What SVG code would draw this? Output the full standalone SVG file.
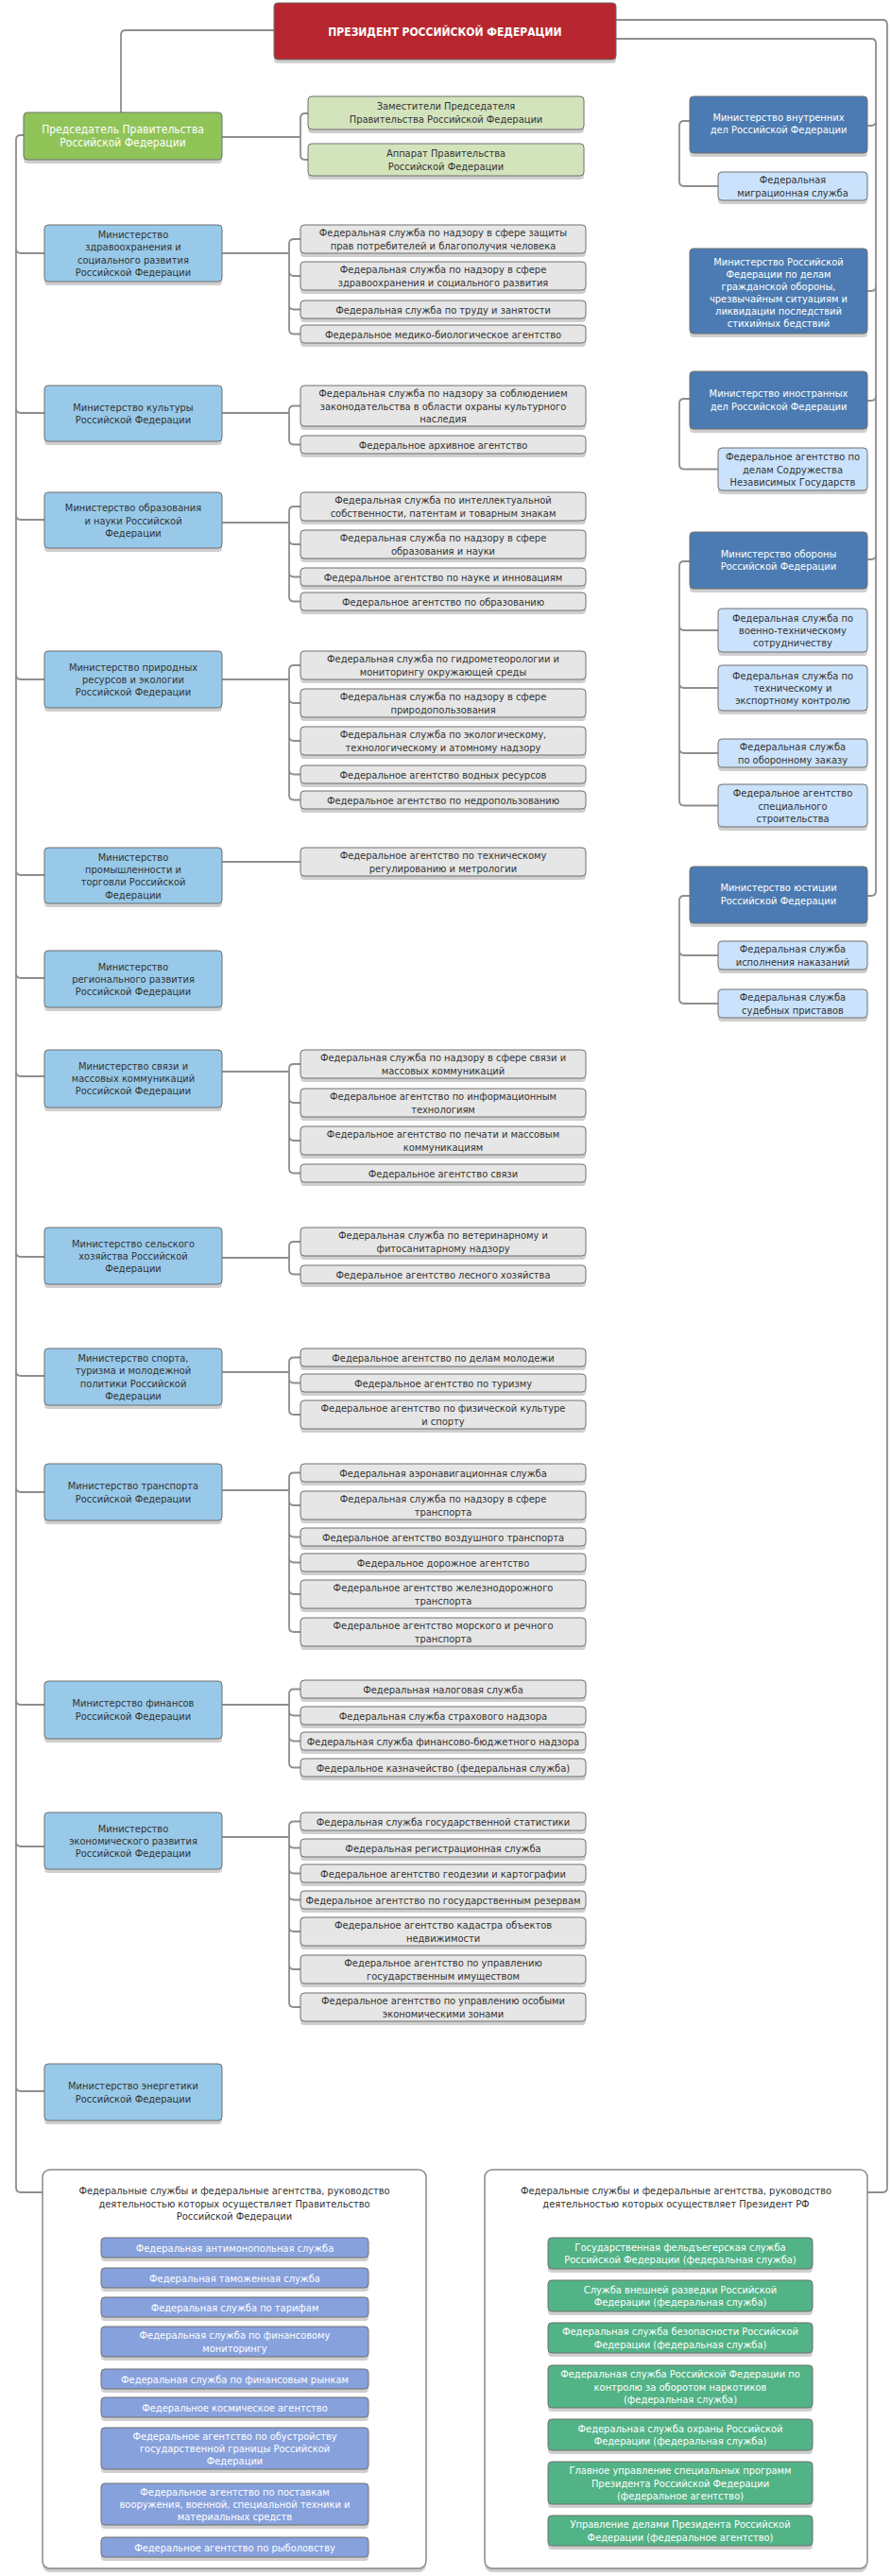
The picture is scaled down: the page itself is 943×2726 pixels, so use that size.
<svg xmlns="http://www.w3.org/2000/svg" width="943" height="2726" viewBox="0 0 943 2726">
<style>
.c{fill:none;stroke:#8e8e8e;stroke-width:1.8}
.sh{fill:#cfcfcf}
.b{stroke:#6f6f6f;stroke-width:1}
.pr{fill:#b8272f}.ch{fill:#90c459}.lg{fill:#d3e4bd}.mn{fill:#98c9e9}.gr{fill:#e6e6e6}
.pw{fill:#4b7bb2}.ps{fill:#cae2fb}.pu{fill:#87a1dd}.gn{fill:#52b386}.pn{fill:#fff;stroke:#888;stroke-width:1.5}
text{font-family:"DejaVu Sans Condensed","DejaVu Sans",sans-serif;font-size:11px;text-anchor:middle;fill:#333}
.w{fill:#fff}
.big{font-size:12px}
</style>
<rect width="943" height="2726" fill="#fff"/>
<g id="connectors">
<path class="c" d="M290,32 H133 Q128,32 128,37 V119"/>
<path class="c" d="M652,21 H934 Q939,21 939,26 V2315 Q939,2320 934,2320 H918"/>
<path class="c" d="M652,41 H922 Q927,41 927,46 V943 Q927,948 922,948 H918"/>
<path class="c" d="M927,128 Q927,133 922,133 H918 M927,303 Q927,308 922,308 H918 M927,419 Q927,424 922,424 H918 M927,587 Q927,592 922,592 H918"/>
<path class="c" d="M235,145 H318 M326,120 H323 Q318,120 318,125 V164 Q318,169 323,169 H326"/>
<path class="c" d="M25,143 H22 Q17,143 17,148 V2315 Q17,2320 22,2320 H45"/>
<path class="c" d="M17,263 Q17,268 22,268 H47 M17,432 Q17,437 22,437 H47 M17,545 Q17,550 22,550 H47 M17,714 Q17,719 22,719 H47 M17,921 Q17,926 22,926 H47 M17,1030 Q17,1035 22,1035 H47 M17,1134 Q17,1139 22,1139 H47 M17,1325 Q17,1330 22,1330 H47 M17,1451 Q17,1456 22,1456 H47 M17,1574 Q17,1579 22,1579 H47 M17,1799 Q17,1804 22,1804 H47 M17,1949 Q17,1954 22,1954 H47 M17,2208 Q17,2213 22,2213 H47"/>
<!-- ministry to subs -->
<path class="c" d="M235,268 H306 M318,253 H311 Q306,253 306,258 V348.5 Q306,353.5 311,353.5 H318 M306,287 Q306,292 311,292 H318 M306,322.5 Q306,327.5 311,327.5 H318"/>
<path class="c" d="M235,437 H306 M318,429.5 H311 Q306,429.5 306,434.5 V465.5 Q306,470.5 311,470.5 H318"/>
<path class="c" d="M235,553 H306 M318,536 H311 Q306,536 306,541 V631.5 Q306,636.5 311,636.5 H318 M306,571 Q306,576 311,576 H318 M306,605.5 Q306,610.5 311,610.5 H318"/>
<path class="c" d="M235,719 H306 M318,704 H311 Q306,704 306,709 V841.5 Q306,846.5 311,846.5 H318 M306,739 Q306,744 311,744 H318 M306,779 Q306,784 311,784 H318 M306,814.5 Q306,819.5 311,819.5 H318"/>
<path class="c" d="M235,912 H318"/>
<path class="c" d="M235,1134 H306 M318,1126 H311 Q306,1126 306,1131 V1236.5 Q306,1241.5 311,1241.5 H318 M306,1162 Q306,1167 311,1167 H318 M306,1202 Q306,1207 311,1207 H318"/>
<path class="c" d="M235,1331 H306 M318,1314 H311 Q306,1314 306,1319 V1343.5 Q306,1348.5 311,1348.5 H318"/>
<path class="c" d="M235,1452 H306 M318,1436.5 H311 Q306,1436.5 306,1441.5 V1492 Q306,1497 311,1497 H318 M306,1458.5 Q306,1463.5 311,1463.5 H318"/>
<path class="c" d="M235,1577 H306 M318,1558.5 H311 Q306,1558.5 306,1563.5 V1722 Q306,1727 311,1727 H318 M306,1588 Q306,1593 311,1593 H318 M306,1621.5 Q306,1626.5 311,1626.5 H318 M306,1648.5 Q306,1653.5 311,1653.5 H318 M306,1682 Q306,1687 311,1687 H318"/>
<path class="c" d="M235,1804 H306 M318,1787.5 H311 Q306,1787.5 306,1792.5 V1865.5 Q306,1870.5 311,1870.5 H318 M306,1810.5 Q306,1815.5 311,1815.5 H318 M306,1837.5 Q306,1842.5 311,1842.5 H318"/>
<path class="c" d="M235,1944 H306 M318,1927.5 H311 Q306,1927.5 306,1932.5 V2119 Q306,2124 311,2124 H318 M306,1950.5 Q306,1955.5 311,1955.5 H318 M306,1977.5 Q306,1982.5 311,1982.5 H318 M306,2005.5 Q306,2010.5 311,2010.5 H318 M306,2039 Q306,2044 311,2044 H318 M306,2079 Q306,2084 311,2084 H318"/>
<!-- power brackets -->
<path class="c" d="M730,128 H724 Q719,128 719,133 V192 Q719,197 724,197 H760"/>
<path class="c" d="M730,422 H724 Q719,422 719,427 V491.5 Q719,496.5 724,496.5 H760"/>
<path class="c" d="M730,594 H724 Q719,594 719,599 V847.5 Q719,852.5 724,852.5 H760 M719,662 Q719,667 724,667 H760 M719,723 Q719,728 724,728 H760 M719,792 Q719,797 724,797 H760"/>
<path class="c" d="M730,948 H724 Q719,948 719,953 V1057 Q719,1062 724,1062 H760 M719,1006 Q719,1011 724,1011 H760"/>
</g>

<g id="president"><rect class="sh" x="290" y="7" width="362" height="60" rx="4"/><rect class="b pr" x="290" y="3" width="362" height="60" rx="4"/><text class="w" style="font-weight:bold;font-size:12px" x="471" y="37.5">ПРЕЗИДЕНТ РОССИЙСКОЙ ФЕДЕРАЦИИ</text></g>

<g id="chairman"><rect class="sh" x="25" y="123" width="210" height="50" rx="4"/><rect class="b ch" x="25" y="119" width="210" height="50" rx="4"/><text class="w big"><tspan x="130" y="141">Председатель Правительства</tspan><tspan x="130" y="155">Российской Федерации</tspan></text></g>
<g id="deputies"><rect class="sh" x="326" y="106" width="292" height="35" rx="4"/><rect class="b lg" x="326" y="102" width="292" height="35" rx="4"/><text><tspan x="472" y="115.5">Заместители Председателя</tspan><tspan x="472" y="129.5">Правительства Российской Федерации</tspan></text></g>
<g id="apparatus"><rect class="sh" x="326" y="156" width="292" height="34" rx="4"/><rect class="b lg" x="326" y="152" width="292" height="34" rx="4"/><text><tspan x="472" y="166">Аппарат Правительства</tspan><tspan x="472" y="180">Российской Федерации</tspan></text></g>

<!-- Left ministries -->
<g id="m-health"><rect class="sh" x="47" y="242" width="188" height="60" rx="4"/><rect class="b mn" x="47" y="238" width="188" height="60" rx="4"/><text><tspan x="141" y="252">Министерство</tspan><tspan x="141" y="265.4">здравоохранения и</tspan><tspan x="141" y="278.7">социального развития</tspan><tspan x="141" y="292">Российской Федерации</tspan></text></g>
<g id="m-culture"><rect class="sh" x="47" y="412" width="188" height="59" rx="4"/><rect class="b mn" x="47" y="408" width="188" height="59" rx="4"/><text><tspan x="141" y="434.9">Министерство культуры</tspan><tspan x="141" y="448.2">Российской Федерации</tspan></text></g>
<g id="m-edu"><rect class="sh" x="47" y="525" width="188" height="59" rx="4"/><rect class="b mn" x="47" y="521" width="188" height="59" rx="4"/><text><tspan x="141" y="541.2">Министерство образования</tspan><tspan x="141" y="554.5">и науки Российской</tspan><tspan x="141" y="567.8">Федерации</tspan></text></g>
<g id="m-nature"><rect class="sh" x="47" y="693" width="188" height="60" rx="4"/><rect class="b mn" x="47" y="689" width="188" height="60" rx="4"/><text><tspan x="141" y="709.7">Министерство природных</tspan><tspan x="141" y="723">ресурсов и экологии</tspan><tspan x="141" y="736.3">Российской Федерации</tspan></text></g>
<g id="m-industry"><rect class="sh" x="47" y="901" width="188" height="59" rx="4"/><rect class="b mn" x="47" y="897" width="188" height="59" rx="4"/><text><tspan x="141" y="910.5">Министерство</tspan><tspan x="141" y="923.9">промышленности и</tspan><tspan x="141" y="937.2">торговли Российской</tspan><tspan x="141" y="950.5">Федерации</tspan></text></g>
<g id="m-region"><rect class="sh" x="47" y="1010" width="188" height="60" rx="4"/><rect class="b mn" x="47" y="1006" width="188" height="60" rx="4"/><text><tspan x="141" y="1026.7">Министерство</tspan><tspan x="141" y="1040">регионального развития</tspan><tspan x="141" y="1053.3">Российской Федерации</tspan></text></g>
<g id="m-comm"><rect class="sh" x="47" y="1115" width="188" height="61" rx="4"/><rect class="b mn" x="47" y="1111" width="188" height="61" rx="4"/><text><tspan x="141" y="1131.7">Министерство связи и</tspan><tspan x="141" y="1145">массовых коммуникаций</tspan><tspan x="141" y="1158.3">Российской Федерации</tspan></text></g>
<g id="m-agri"><rect class="sh" x="47" y="1303" width="188" height="60" rx="4"/><rect class="b mn" x="47" y="1299" width="188" height="60" rx="4"/><text><tspan x="141" y="1319.7">Министерство сельского</tspan><tspan x="141" y="1333">хозяйства Российской</tspan><tspan x="141" y="1346.3">Федерации</tspan></text></g>
<g id="m-sport"><rect class="sh" x="47" y="1431" width="188" height="60" rx="4"/><rect class="b mn" x="47" y="1427" width="188" height="60" rx="4"/><text><tspan x="141" y="1441">Министерство спорта,</tspan><tspan x="141" y="1454.4">туризма и молодежной</tspan><tspan x="141" y="1467.7">политики Российской</tspan><tspan x="141" y="1481">Федерации</tspan></text></g>
<g id="m-transport"><rect class="sh" x="47" y="1553" width="188" height="60" rx="4"/><rect class="b mn" x="47" y="1549" width="188" height="60" rx="4"/><text><tspan x="141" y="1576.4">Министерство транспорта</tspan><tspan x="141" y="1589.7">Российской Федерации</tspan></text></g>
<g id="m-finance"><rect class="sh" x="47" y="1783" width="188" height="61" rx="4"/><rect class="b mn" x="47" y="1779" width="188" height="61" rx="4"/><text><tspan x="141" y="1806.4">Министерство финансов</tspan><tspan x="141" y="1819.7">Российской Федерации</tspan></text></g>
<g id="m-econ"><rect class="sh" x="47" y="1922" width="188" height="60" rx="4"/><rect class="b mn" x="47" y="1918" width="188" height="60" rx="4"/><text><tspan x="141" y="1938.7">Министерство</tspan><tspan x="141" y="1952">экономического развития</tspan><tspan x="141" y="1965.3">Российской Федерации</tspan></text></g>
<g id="m-energy"><rect class="sh" x="47" y="2188" width="188" height="60" rx="4"/><rect class="b mn" x="47" y="2184" width="188" height="60" rx="4"/><text><tspan x="141" y="2211.4">Министерство энергетики</tspan><tspan x="141" y="2224.7">Российской Федерации</tspan></text></g>

<!-- Gray subordinate services -->
<g id="s-health-1"><rect class="sh" x="318" y="242" width="302" height="30" rx="4"/><rect class="b gr" x="318" y="238" width="302" height="30" rx="4"/><text><tspan x="469" y="250.4">Федеральная служба по надзору в сфере защиты</tspan><tspan x="469" y="263.7">прав потребителей и благополучия человека</tspan></text></g>
<g id="s-health-2"><rect class="sh" x="318" y="281" width="302" height="30" rx="4"/><rect class="b gr" x="318" y="277" width="302" height="30" rx="4"/><text><tspan x="469" y="289.4">Федеральная служба по надзору в сфере</tspan><tspan x="469" y="302.7">здравоохранения и социального развития</tspan></text></g>
<g id="s-health-3"><rect class="sh" x="318" y="322" width="302" height="19" rx="4"/><rect class="b gr" x="318" y="318" width="302" height="19" rx="4"/><text x="469" y="331.5">Федеральная служба по труду и занятости</text></g>
<g id="s-health-4"><rect class="sh" x="318" y="348" width="302" height="19" rx="4"/><rect class="b gr" x="318" y="344" width="302" height="19" rx="4"/><text x="469" y="357.5">Федеральное медико-биологическое агентство</text></g>

<g id="s-culture-1"><rect class="sh" x="318" y="412" width="302" height="43" rx="4"/><rect class="b gr" x="318" y="408" width="302" height="43" rx="4"/><text><tspan x="469" y="420.2">Федеральная служба по надзору за соблюдением</tspan><tspan x="469" y="433.5">законодательства в области охраны культурного</tspan><tspan x="469" y="446.8">наследия</tspan></text></g>
<g id="s-culture-2"><rect class="sh" x="318" y="465" width="302" height="19" rx="4"/><rect class="b gr" x="318" y="461" width="302" height="19" rx="4"/><text x="469" y="474.5">Федеральное архивное агентство</text></g>

<g id="s-edu-1"><rect class="sh" x="318" y="525" width="302" height="30" rx="4"/><rect class="b gr" x="318" y="521" width="302" height="30" rx="4"/><text><tspan x="469" y="533.4">Федеральная служба по интеллектуальной</tspan><tspan x="469" y="546.7">собственности, патентам и товарным знакам</tspan></text></g>
<g id="s-edu-2"><rect class="sh" x="318" y="565" width="302" height="30" rx="4"/><rect class="b gr" x="318" y="561" width="302" height="30" rx="4"/><text><tspan x="469" y="573.4">Федеральная служба по надзору в сфере</tspan><tspan x="469" y="586.7">образования и науки</tspan></text></g>
<g id="s-edu-3"><rect class="sh" x="318" y="605" width="302" height="19" rx="4"/><rect class="b gr" x="318" y="601" width="302" height="19" rx="4"/><text x="469" y="614.5">Федеральное агентство по науке и инновациям</text></g>
<g id="s-edu-4"><rect class="sh" x="318" y="631" width="302" height="19" rx="4"/><rect class="b gr" x="318" y="627" width="302" height="19" rx="4"/><text x="469" y="640.5">Федеральное агентство по образованию</text></g>

<g id="s-nature-1"><rect class="sh" x="318" y="693" width="302" height="30" rx="4"/><rect class="b gr" x="318" y="689" width="302" height="30" rx="4"/><text><tspan x="469" y="701.4">Федеральная служба по гидрометеорологии и</tspan><tspan x="469" y="714.7">мониторингу окружающей среды</tspan></text></g>
<g id="s-nature-2"><rect class="sh" x="318" y="733" width="302" height="30" rx="4"/><rect class="b gr" x="318" y="729" width="302" height="30" rx="4"/><text><tspan x="469" y="741.4">Федеральная служба по надзору в сфере</tspan><tspan x="469" y="754.7">природопользования</tspan></text></g>
<g id="s-nature-3"><rect class="sh" x="318" y="773" width="302" height="30" rx="4"/><rect class="b gr" x="318" y="769" width="302" height="30" rx="4"/><text><tspan x="469" y="781.4">Федеральная служба по экологическому,</tspan><tspan x="469" y="794.7">технологическому и атомному надзору</tspan></text></g>
<g id="s-nature-4"><rect class="sh" x="318" y="814" width="302" height="19" rx="4"/><rect class="b gr" x="318" y="810" width="302" height="19" rx="4"/><text x="469" y="823.5">Федеральное агентство водных ресурсов</text></g>
<g id="s-nature-5"><rect class="sh" x="318" y="841" width="302" height="19" rx="4"/><rect class="b gr" x="318" y="837" width="302" height="19" rx="4"/><text x="469" y="850.5">Федеральное агентство по недропользованию</text></g>

<g id="s-industry-1"><rect class="sh" x="318" y="901" width="302" height="30" rx="4"/><rect class="b gr" x="318" y="897" width="302" height="30" rx="4"/><text><tspan x="469" y="909.4">Федеральное агентство по техническому</tspan><tspan x="469" y="922.7">регулированию и метрологии</tspan></text></g>

<g id="s-comm-1"><rect class="sh" x="318" y="1115" width="302" height="30" rx="4"/><rect class="b gr" x="318" y="1111" width="302" height="30" rx="4"/><text><tspan x="469" y="1123.4">Федеральная служба по надзору в сфере связи и</tspan><tspan x="469" y="1136.7">массовых коммуникаций</tspan></text></g>
<g id="s-comm-2"><rect class="sh" x="318" y="1156" width="302" height="30" rx="4"/><rect class="b gr" x="318" y="1152" width="302" height="30" rx="4"/><text><tspan x="469" y="1164.4">Федеральное агентство по информационным</tspan><tspan x="469" y="1177.7">технологиям</tspan></text></g>
<g id="s-comm-3"><rect class="sh" x="318" y="1196" width="302" height="30" rx="4"/><rect class="b gr" x="318" y="1192" width="302" height="30" rx="4"/><text><tspan x="469" y="1204.4">Федеральное агентство по печати и массовым</tspan><tspan x="469" y="1217.7">коммуникациям</tspan></text></g>
<g id="s-comm-4"><rect class="sh" x="318" y="1236" width="302" height="19" rx="4"/><rect class="b gr" x="318" y="1232" width="302" height="19" rx="4"/><text x="469" y="1245.5">Федеральное агентство связи</text></g>

<g id="s-agri-1"><rect class="sh" x="318" y="1303" width="302" height="30" rx="4"/><rect class="b gr" x="318" y="1299" width="302" height="30" rx="4"/><text><tspan x="469" y="1311.4">Федеральная служба по ветеринарному и</tspan><tspan x="469" y="1324.7">фитосанитарному надзору</tspan></text></g>
<g id="s-agri-2"><rect class="sh" x="318" y="1343" width="302" height="19" rx="4"/><rect class="b gr" x="318" y="1339" width="302" height="19" rx="4"/><text x="469" y="1352.5">Федеральное агентство лесного хозяйства</text></g>

<g id="s-sport-1"><rect class="sh" x="318" y="1431" width="302" height="19" rx="4"/><rect class="b gr" x="318" y="1427" width="302" height="19" rx="4"/><text x="469" y="1440.5">Федеральное агентство по делам молодежи</text></g>
<g id="s-sport-2"><rect class="sh" x="318" y="1458" width="302" height="19" rx="4"/><rect class="b gr" x="318" y="1454" width="302" height="19" rx="4"/><text x="469" y="1467.5">Федеральное агентство по туризму</text></g>
<g id="s-sport-3"><rect class="sh" x="318" y="1486" width="302" height="30" rx="4"/><rect class="b gr" x="318" y="1482" width="302" height="30" rx="4"/><text><tspan x="469" y="1494.4">Федеральное агентство по физической культуре</tspan><tspan x="469" y="1507.7">и спорту</tspan></text></g>

<g id="s-trans-1"><rect class="sh" x="318" y="1553" width="302" height="19" rx="4"/><rect class="b gr" x="318" y="1549" width="302" height="19" rx="4"/><text x="469" y="1562.5">Федеральная аэронавигационная служба</text></g>
<g id="s-trans-2"><rect class="sh" x="318" y="1582" width="302" height="30" rx="4"/><rect class="b gr" x="318" y="1578" width="302" height="30" rx="4"/><text><tspan x="469" y="1590.4">Федеральная служба по надзору в сфере</tspan><tspan x="469" y="1603.7">транспорта</tspan></text></g>
<g id="s-trans-3"><rect class="sh" x="318" y="1621" width="302" height="19" rx="4"/><rect class="b gr" x="318" y="1617" width="302" height="19" rx="4"/><text x="469" y="1630.5">Федеральное агентство воздушного транспорта</text></g>
<g id="s-trans-4"><rect class="sh" x="318" y="1648" width="302" height="19" rx="4"/><rect class="b gr" x="318" y="1644" width="302" height="19" rx="4"/><text x="469" y="1657.5">Федеральное дорожное агентство</text></g>
<g id="s-trans-5"><rect class="sh" x="318" y="1676" width="302" height="30" rx="4"/><rect class="b gr" x="318" y="1672" width="302" height="30" rx="4"/><text><tspan x="469" y="1684.4">Федеральное агентство железнодорожного</tspan><tspan x="469" y="1697.7">транспорта</tspan></text></g>
<g id="s-trans-6"><rect class="sh" x="318" y="1716" width="302" height="30" rx="4"/><rect class="b gr" x="318" y="1712" width="302" height="30" rx="4"/><text><tspan x="469" y="1724.4">Федеральное агентство морского и речного</tspan><tspan x="469" y="1737.7">транспорта</tspan></text></g>

<g id="s-fin-1"><rect class="sh" x="318" y="1782" width="302" height="19" rx="4"/><rect class="b gr" x="318" y="1778" width="302" height="19" rx="4"/><text x="469" y="1791.5">Федеральная налоговая служба</text></g>
<g id="s-fin-2"><rect class="sh" x="318" y="1810" width="302" height="19" rx="4"/><rect class="b gr" x="318" y="1806" width="302" height="19" rx="4"/><text x="469" y="1819.5">Федеральная служба страхового надзора</text></g>
<g id="s-fin-3"><rect class="sh" x="318" y="1837" width="302" height="19" rx="4"/><rect class="b gr" x="318" y="1833" width="302" height="19" rx="4"/><text x="469" y="1846.5">Федеральная служба финансово-бюджетного надзора</text></g>
<g id="s-fin-4"><rect class="sh" x="318" y="1865" width="302" height="19" rx="4"/><rect class="b gr" x="318" y="1861" width="302" height="19" rx="4"/><text x="469" y="1874.5">Федеральное казначейство (федеральная служба)</text></g>

<g id="s-econ-1"><rect class="sh" x="318" y="1922" width="302" height="19" rx="4"/><rect class="b gr" x="318" y="1918" width="302" height="19" rx="4"/><text x="469" y="1931.5">Федеральная служба государственной статистики</text></g>
<g id="s-econ-2"><rect class="sh" x="318" y="1950" width="302" height="19" rx="4"/><rect class="b gr" x="318" y="1946" width="302" height="19" rx="4"/><text x="469" y="1959.5">Федеральная регистрационная служба</text></g>
<g id="s-econ-3"><rect class="sh" x="318" y="1977" width="302" height="19" rx="4"/><rect class="b gr" x="318" y="1973" width="302" height="19" rx="4"/><text x="469" y="1986.5">Федеральное агентство геодезии и картографии</text></g>
<g id="s-econ-4"><rect class="sh" x="318" y="2005" width="302" height="19" rx="4"/><rect class="b gr" x="318" y="2001" width="302" height="19" rx="4"/><text x="469" y="2014.5">Федеральное агентство по государственным резервам</text></g>
<g id="s-econ-5"><rect class="sh" x="318" y="2033" width="302" height="30" rx="4"/><rect class="b gr" x="318" y="2029" width="302" height="30" rx="4"/><text><tspan x="469" y="2041.4">Федеральное агентство кадастра объектов</tspan><tspan x="469" y="2054.7">недвижимости</tspan></text></g>
<g id="s-econ-6"><rect class="sh" x="318" y="2073" width="302" height="30" rx="4"/><rect class="b gr" x="318" y="2069" width="302" height="30" rx="4"/><text><tspan x="469" y="2081.4">Федеральное агентство по управлению</tspan><tspan x="469" y="2094.7">государственным имуществом</tspan></text></g>
<g id="s-econ-7"><rect class="sh" x="318" y="2113" width="302" height="30" rx="4"/><rect class="b gr" x="318" y="2109" width="302" height="30" rx="4"/><text><tspan x="469" y="2121.4">Федеральное агентство по управлению особыми</tspan><tspan x="469" y="2134.7">экономическими зонами</tspan></text></g>

<!-- Power ministries -->
<g id="p-mvd"><rect class="sh" x="730" y="106" width="188" height="60" rx="4"/><rect class="b pw" x="730" y="102" width="188" height="60" rx="4"/><text class="w"><tspan x="824" y="127.5">Министерство внутренних</tspan><tspan x="824" y="141">дел Российской Федерации</tspan></text></g>
<g id="p-fms"><rect class="sh" x="760" y="186" width="158" height="30" rx="4"/><rect class="b ps" x="760" y="182" width="158" height="30" rx="4"/><text><tspan x="839" y="194.3">Федеральная</tspan><tspan x="839" y="207.6">миграционная служба</tspan></text></g>
<g id="p-mchs"><rect class="sh" x="730" y="267" width="188" height="90" rx="4"/><rect class="b pw" x="730" y="263" width="188" height="90" rx="4"/><text class="w"><tspan x="824" y="281">Министерство Российской</tspan><tspan x="824" y="294">Федерации по делам</tspan><tspan x="824" y="307">гражданской обороны,</tspan><tspan x="824" y="320">чрезвычайным ситуациям и</tspan><tspan x="824" y="333">ликвидации последствий</tspan><tspan x="824" y="346">стихийных бедствий</tspan></text></g>
<g id="p-mid"><rect class="sh" x="730" y="397" width="188" height="61" rx="4"/><rect class="b pw" x="730" y="393" width="188" height="61" rx="4"/><text class="w"><tspan x="824" y="420.4">Министерство иностранных</tspan><tspan x="824" y="433.7">дел Российской Федерации</tspan></text></g>
<g id="p-sng"><rect class="sh" x="760" y="478" width="158" height="45" rx="4"/><rect class="b ps" x="760" y="474" width="158" height="45" rx="4"/><text><tspan x="839" y="487.2">Федеральное агентство по</tspan><tspan x="839" y="500.5">делам Содружества</tspan><tspan x="839" y="513.8">Независимых Государств</tspan></text></g>
<g id="p-mo"><rect class="sh" x="730" y="567" width="188" height="60" rx="4"/><rect class="b pw" x="730" y="563" width="188" height="60" rx="4"/><text class="w"><tspan x="824" y="590">Министерство обороны</tspan><tspan x="824" y="603">Российской Федерации</tspan></text></g>
<g id="p-vts"><rect class="sh" x="760" y="648" width="158" height="46" rx="4"/><rect class="b ps" x="760" y="644" width="158" height="46" rx="4"/><text><tspan x="839" y="657.7">Федеральная служба по</tspan><tspan x="839" y="671">военно-техническому</tspan><tspan x="839" y="684.3">сотрудничеству</tspan></text></g>
<g id="p-fstek"><rect class="sh" x="760" y="708" width="158" height="48" rx="4"/><rect class="b ps" x="760" y="704" width="158" height="48" rx="4"/><text><tspan x="839" y="718.7">Федеральная служба по</tspan><tspan x="839" y="732">техническому и</tspan><tspan x="839" y="745.3">экспортному контролю</tspan></text></g>
<g id="p-fsoz"><rect class="sh" x="760" y="786" width="158" height="30" rx="4"/><rect class="b ps" x="760" y="782" width="158" height="30" rx="4"/><text><tspan x="839" y="794.4">Федеральная служба</tspan><tspan x="839" y="807.7">по оборонному заказу</tspan></text></g>
<g id="p-spec"><rect class="sh" x="760" y="834" width="158" height="45" rx="4"/><rect class="b ps" x="760" y="830" width="158" height="45" rx="4"/><text><tspan x="839" y="843.2">Федеральное агентство</tspan><tspan x="839" y="856.5">специального</tspan><tspan x="839" y="869.8">строительства</tspan></text></g>
<g id="p-mju"><rect class="sh" x="730" y="921" width="188" height="60" rx="4"/><rect class="b pw" x="730" y="917" width="188" height="60" rx="4"/><text class="w"><tspan x="824" y="943">Министерство юстиции</tspan><tspan x="824" y="957">Российской Федерации</tspan></text></g>
<g id="p-fsin"><rect class="sh" x="760" y="1000" width="158" height="30" rx="4"/><rect class="b ps" x="760" y="996" width="158" height="30" rx="4"/><text><tspan x="839" y="1008.4">Федеральная служба</tspan><tspan x="839" y="1021.7">исполнения наказаний</tspan></text></g>
<g id="p-fssp"><rect class="sh" x="760" y="1051" width="158" height="30" rx="4"/><rect class="b ps" x="760" y="1047" width="158" height="30" rx="4"/><text><tspan x="839" y="1059.4">Федеральная служба</tspan><tspan x="839" y="1072.7">судебных приставов</tspan></text></g>

<!-- Bottom panels -->
<g id="gov-panel"><rect class="sh" x="45" y="2300" width="406" height="422" rx="8"/><rect class="pn" x="45" y="2296" width="406" height="422" rx="8"/><text><tspan x="248" y="2322">Федеральные службы и федеральные агентства, руководство</tspan><tspan x="248" y="2336">деятельностью которых осуществляет Правительство</tspan><tspan x="248" y="2349">Российской Федерации</tspan></text></g>
<g id="pres-panel"><rect class="sh" x="513" y="2300" width="405" height="422" rx="8"/><rect class="pn" x="513" y="2296" width="405" height="422" rx="8"/><text><tspan x="715.5" y="2322">Федеральные службы и федеральные агентства, руководство</tspan><tspan x="715.5" y="2336">деятельностью которых осуществляет Президент РФ</tspan></text></g>

<g id="g-1"><rect class="sh" x="107" y="2372" width="283" height="21" rx="4"/><rect class="b pu" x="107" y="2368" width="283" height="21" rx="4"/><text class="w" x="248.5" y="2382.5">Федеральная антимонопольная служба</text></g>
<g id="g-2"><rect class="sh" x="107" y="2404" width="283" height="21" rx="4"/><rect class="b pu" x="107" y="2400" width="283" height="21" rx="4"/><text class="w" x="248.5" y="2414.5">Федеральная таможенная служба</text></g>
<g id="g-3"><rect class="sh" x="107" y="2435" width="283" height="21" rx="4"/><rect class="b pu" x="107" y="2431" width="283" height="21" rx="4"/><text class="w" x="248.5" y="2445.5">Федеральная служба по тарифам</text></g>
<g id="g-4"><rect class="sh" x="107" y="2466" width="283" height="32" rx="4"/><rect class="b pu" x="107" y="2462" width="283" height="32" rx="4"/><text class="w"><tspan x="248.5" y="2475.4">Федеральная служба по финансовому</tspan><tspan x="248.5" y="2488.7">мониторингу</tspan></text></g>
<g id="g-5"><rect class="sh" x="107" y="2511" width="283" height="21" rx="4"/><rect class="b pu" x="107" y="2507" width="283" height="21" rx="4"/><text class="w" x="248.5" y="2521.5">Федеральная служба по финансовым рынкам</text></g>
<g id="g-6"><rect class="sh" x="107" y="2541" width="283" height="21" rx="4"/><rect class="b pu" x="107" y="2537" width="283" height="21" rx="4"/><text class="w" x="248.5" y="2551.5">Федеральное космическое агентство</text></g>
<g id="g-7"><rect class="sh" x="107" y="2573" width="283" height="44" rx="4"/><rect class="b pu" x="107" y="2569" width="283" height="44" rx="4"/><text class="w"><tspan x="248.5" y="2581.7">Федеральное агентство по обустройству</tspan><tspan x="248.5" y="2595">государственной границы Российской</tspan><tspan x="248.5" y="2608.3">Федерации</tspan></text></g>
<g id="g-8"><rect class="sh" x="107" y="2632" width="283" height="44" rx="4"/><rect class="b pu" x="107" y="2628" width="283" height="44" rx="4"/><text class="w"><tspan x="248.5" y="2640.7">Федеральное агентство по поставкам</tspan><tspan x="248.5" y="2654">вооружения, военной, специальной техники и</tspan><tspan x="248.5" y="2667.3">материальных средств</tspan></text></g>
<g id="g-9"><rect class="sh" x="107" y="2689" width="283" height="21" rx="4"/><rect class="b pu" x="107" y="2685" width="283" height="21" rx="4"/><text class="w" x="248.5" y="2699.5">Федеральное агентство по рыболовству</text></g>

<g id="r-1"><rect class="sh" x="580" y="2372" width="280" height="33" rx="4"/><rect class="b gn" x="580" y="2368" width="280" height="33" rx="4"/><text class="w"><tspan x="720" y="2381.9">Государственная фельдъегерская служба</tspan><tspan x="720" y="2395.2">Российской Федерации (федеральная служба)</tspan></text></g>
<g id="r-2"><rect class="sh" x="580" y="2417" width="280" height="33" rx="4"/><rect class="b gn" x="580" y="2413" width="280" height="33" rx="4"/><text class="w"><tspan x="720" y="2426.9">Служба внешней разведки Российской</tspan><tspan x="720" y="2440.2">Федерации (федеральная служба)</tspan></text></g>
<g id="r-3"><rect class="sh" x="580" y="2462" width="280" height="32" rx="4"/><rect class="b gn" x="580" y="2458" width="280" height="32" rx="4"/><text class="w"><tspan x="720" y="2471.4">Федеральная служба безопасности Российской</tspan><tspan x="720" y="2484.7">Федерации (федеральная служба)</tspan></text></g>
<g id="r-4"><rect class="sh" x="580" y="2507" width="280" height="45" rx="4"/><rect class="b gn" x="580" y="2503" width="280" height="45" rx="4"/><text class="w"><tspan x="720" y="2516.2">Федеральная служба Российской Федерации по</tspan><tspan x="720" y="2529.5">контролю за оборотом наркотиков</tspan><tspan x="720" y="2542.8">(федеральная служба)</tspan></text></g>
<g id="r-5"><rect class="sh" x="580" y="2564" width="280" height="33" rx="4"/><rect class="b gn" x="580" y="2560" width="280" height="33" rx="4"/><text class="w"><tspan x="720" y="2573.9">Федеральная служба охраны Российской</tspan><tspan x="720" y="2587.2">Федерации (федеральная служба)</tspan></text></g>
<g id="r-6"><rect class="sh" x="580" y="2609" width="280" height="45" rx="4"/><rect class="b gn" x="580" y="2605" width="280" height="45" rx="4"/><text class="w"><tspan x="720" y="2618.2">Главное управление специальных программ</tspan><tspan x="720" y="2631.5">Президента Российской Федерации</tspan><tspan x="720" y="2644.8">(федеральное агентство)</tspan></text></g>
<g id="r-7"><rect class="sh" x="580" y="2666" width="280" height="32" rx="4"/><rect class="b gn" x="580" y="2662" width="280" height="32" rx="4"/><text class="w"><tspan x="720" y="2675.4">Управление делами Президента Российской</tspan><tspan x="720" y="2688.7">Федерации (федеральное агентство)</tspan></text></g>
</svg>
